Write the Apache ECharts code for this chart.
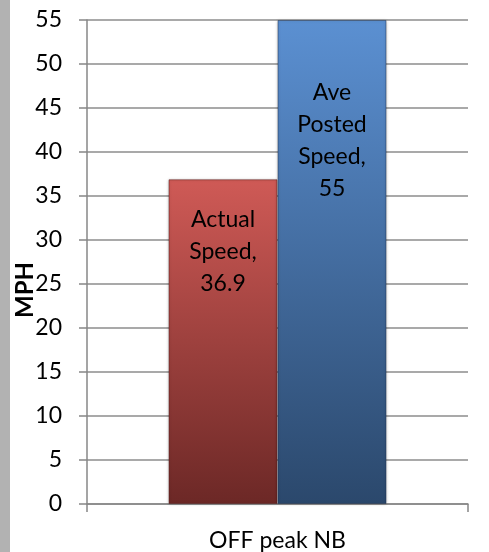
<!DOCTYPE html>
<html>
<head>
<meta charset="utf-8">
<script src="https://cdn.jsdelivr.net/npm/echarts@6/dist/echarts.min.js"></script>
<style>
  html, body { margin: 0; padding: 0; background: #fff; }
  #chart { width: 489px; height: 552px; }
</style>
</head>
<body>
<div id="chart"></div>
<script>
// Datos de la gráfica
const categorias = ['OFF peak NB'];
const velocidadReal = [36.9];
const velocidadPublicada = [55];
const yMin = 0, yMax = 55, yPaso = 5;

const fuente = 'Lato, "Open Sans", sans-serif';

// Gradientes para imitar las barras de Excel
function degradado(arriba, abajo) {
    return new echarts.graphic.LinearGradient(0, 0, 0, 1, [
        { offset: 0, color: arriba },
        { offset: 1, color: abajo }
    ]);
}

// Texto de la etiqueta: nombre partido en líneas + valor
function textoEtiqueta(p) {
    return p.seriesName.split(' ').join('\n') + ',\n' + p.value;
}

const grafico = echarts.init(document.getElementById('chart'));

grafico.setOption({
    animation: false,
    backgroundColor: '#ffffff',
    graphic: [
        // franja gris a la izquierda
        { type: 'rect', left: 0, top: 0, shape: { width: 10, height: 552 }, style: { fill: '#b2b2b2' } }
    ],
    grid: { left: 87, right: 21, top: 20, bottom: 48, outerBoundsMode: 'none', containLabel: false },
    xAxis: {
        type: 'category',
        data: categorias,
        axisLine: { lineStyle: { color: '#878787', width: 1.5 } },
        axisTick: { show: true, length: 8, lineStyle: { color: '#878787', width: 1.5 } },
        axisLabel: { margin: 25, color: '#000', fontSize: 23, fontFamily: fuente }
    },
    yAxis: {
        type: 'value',
        min: yMin,
        max: yMax,
        interval: yPaso,
        name: 'MPH',
        nameLocation: 'middle',
        nameRotate: 90,
        nameGap: 50,
        nameMoveOverlap: false,
        nameTextStyle: { color: '#000', fontSize: 24, fontWeight: 'bold', fontFamily: fuente, align: 'right' },
        axisLine: { show: true, lineStyle: { color: '#878787', width: 1.5 } },
        axisTick: { show: true, length: 8, lineStyle: { color: '#878787', width: 1.5 } },
        axisLabel: { margin: 25, color: '#000', fontSize: 23, fontFamily: fuente },
        splitLine: { lineStyle: { color: '#8c8c8c', width: 1.5 } }
    },
    series: [
        {
            name: 'Actual Speed',
            type: 'bar',
            data: velocidadReal,
            barWidth: 109,
            barGap: '0%',
            itemStyle: {
                color: degradado('#cf5a56', '#6c2826'),
                borderColor: 'rgba(90,30,28,0.5)',
                borderWidth: 1,
                shadowColor: 'rgba(0,0,0,0.25)',
                shadowBlur: 3
            },
            label: {
                show: true,
                position: 'insideTop',
                distance: 24,
                formatter: textoEtiqueta,
                color: '#000',
                fontSize: 23,
                lineHeight: 32,
                fontFamily: fuente
            }
        },
        {
            name: 'Ave Posted Speed',
            type: 'bar',
            data: velocidadPublicada,
            barWidth: 109,
            itemStyle: {
                color: degradado('#5b90d2', '#2b486c'),
                borderColor: 'rgba(30,50,80,0.5)',
                borderWidth: 1,
                shadowColor: 'rgba(0,0,0,0.25)',
                shadowBlur: 3
            },
            label: {
                show: true,
                position: 'insideTop',
                distance: 57,
                formatter: textoEtiqueta,
                color: '#000',
                fontSize: 23,
                lineHeight: 32,
                fontFamily: fuente
            }
        }
    ]
});
</script>
</body>
</html>
